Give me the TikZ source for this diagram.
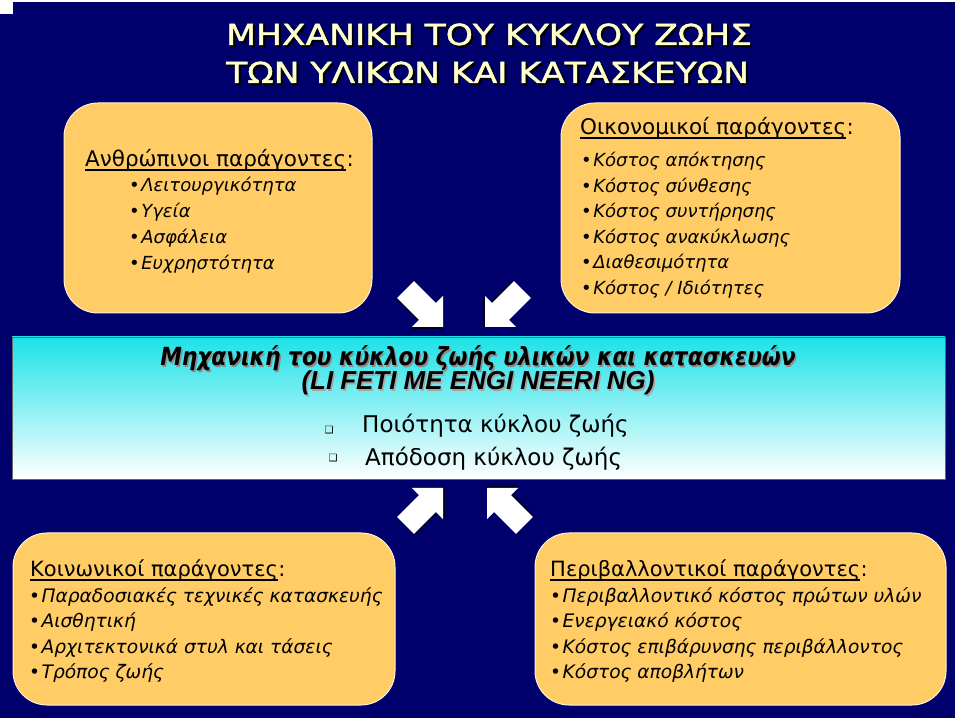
\documentclass[tikz,border=0pt]{standalone}
\usepackage{fontspec}
\setmainfont{DejaVu Sans}
\newfontfamily\comic{DejaVu Sans}
\newfontfamily\comicw[FakeStretch=1.19,FakeBold=1.6]{DejaVu Sans}
\newfontfamily\comicn[FakeStretch=0.87]{DejaVu Sans}
\newfontfamily\arialf{Liberation Sans}
\definecolor{navy}{RGB}{0,0,108}
\definecolor{boxfill}{RGB}{255,204,102}
\definecolor{cream}{RGB}{255,255,204}
\definecolor{cyanband}{RGB}{28,226,232}
\newcommand{\shtext}[3]{\makebox[0pt][l]{\raisebox{-#2}{\kern#2\textcolor{#1}{#3}}}#3}
\tikzset{
  fbox/.style={draw=white!75!boxfill, line width=1pt, fill=boxfill, rounded corners=34pt, inner sep=0pt},
  hd/.style={anchor=base west, inner sep=0pt, font=\comic\fontsize{21.5}{24}\selectfont},
  it/.style={anchor=base west, inner sep=0pt, font=\comic\itshape\fontsize{18}{22}\selectfont},
  hdn/.style={anchor=base west, inner sep=0pt, font=\comic\fontsize{21}{24}\selectfont},
  itn/.style={anchor=base west, inner sep=0pt, font=\comic\itshape\fontsize{18.6}{22}\selectfont},
  ttl/.style={anchor=base west, inner sep=0pt, text=cream, font=\comicw\fontsize{29}{36}\selectfont},
  uline/.style={line width=1.1pt},
  blockarrow/.pic={
    \fill[black!80!navy] (1.5,-1.5) -- ++(-22,22) -- ++(0,-10) -- ++(-31,0) -- ++(0,-24) -- ++(31,0) -- ++(0,-10) -- cycle;
    \fill[white] (0,0) -- (-22,22) -- (-22,12) -- (-53,12) -- (-53,-12) -- (-22,-12) -- (-22,-22) -- cycle;
  }
}
\begin{document}
\begin{tikzpicture}[x=1pt,y=1pt]
\useasboundingbox (0,0) rectangle (960,720);
\fill[white] (0,0) rectangle (960,720);
\fill[navy] (0,2) rectangle (955,718);
\fill[white] (0,706) rectangle (13,720);
% title
\node[ttl] (t1) at (226,675) {\shtext{black}{2pt}{ΜΗΧΑΝΙΚΗ ΤΟΥ ΚΥΚΛΟΥ ΖΩΗΣ}};
\node[ttl] (t2) at (226,637) {\shtext{black}{2pt}{ΤΩΝ ΥΛΙΚΩΝ ΚΑΙ ΚΑΤΑΣΚΕΥΩΝ}};
% boxes
\node[fbox, minimum width=308pt, minimum height=210pt] (bh) at (218,512) {};
\node[fbox, minimum width=339pt, minimum height=210pt] (be) at (730.5,512) {};
\node[fbox, minimum width=382pt, minimum height=172pt] (bs) at (204,101) {};
\node[fbox, minimum width=411pt, minimum height=172pt] (bv) at (740.5,101) {};
% human factors
\node[hd] (h0) at (85,553) {Ανθρώπινοι παράγοντες};
\node[hd, anchor=base west] (h0c) at (h0.base east) {:};
\draw[uline] ([yshift=-3pt]h0.base west) -- ([yshift=-3pt]h0.base east);
\foreach \t [count=\i] in {Λειτουργικότητα,Υγεία,Ασφάλεια,Ευχρηστότητα}
  \node[it] (h\i) at (129,{528-25.7*(\i-1)}) {\upshape\textbullet\kern1.5pt\itshape \t};
% economic factors
\node[hd] (e0) at (580,585) {Οικονομικοί παράγοντες};
\node[hd, anchor=base west] (e0c) at (e0.base east) {:};
\draw[uline] ([yshift=-3pt]e0.base west) -- ([yshift=-3pt]e0.base east);
\foreach \t [count=\i] in {Κόστος απόκτησης,Κόστος σύνθεσης,Κόστος συντήρησης,Κόστος ανακύκλωσης,Διαθεσιμότητα,Κόστος / Ιδιότητες}
  \node[it] (e\i) at (581,{553-25.5*(\i-1)}) {\upshape\textbullet\kern1.5pt\itshape \t};
% social factors
\node[hdn] (s0) at (30,143) {Κοινωνικοί παράγοντες};
\node[hdn, anchor=base west] (s0c) at (s0.base east) {:};
\draw[uline] ([yshift=-3pt]s0.base west) -- ([yshift=-3pt]s0.base east);
\foreach \t [count=\i] in {Παραδοσιακές τεχνικές κατασκευής,Αισθητική,Αρχιτεκτονικά στυλ και τάσεις,Τρόπος ζωής}
  \node[itn] (s\i) at (29,{118-25.6*(\i-1)}) {\upshape\textbullet\kern1.5pt\itshape \t};
% environmental factors
\node[hdn] (v0) at (550,143) {Περιβαλλοντικοί παράγοντες};
\node[hdn, anchor=base west] (v0c) at (v0.base east) {:};
\draw[uline] ([yshift=-3pt]v0.base west) -- ([yshift=-3pt]v0.base east);
\foreach \t [count=\i] in {Περιβαλλοντικό κόστος πρώτων υλών,Ενεργειακό κόστος,Κόστος επιβάρυνσης περιβάλλοντος,Κόστος αποβλήτων}
  \node[itn] (v\i) at (550,{118-25.6*(\i-1)}) {\upshape\textbullet\kern1.5pt\itshape \t};
% central band
\node[draw=black!60, line width=0.6pt, top color=cyanband, bottom color=white, minimum width=933pt, minimum height=142pt, inner sep=0pt] (band) at (478.5,312) {};
\node[anchor=base, inner sep=0pt, font=\comicn\bfseries\itshape\fontsize{25}{28}\selectfont] (c1) at (478,354) {\shtext{black!45}{1.5pt}{Μηχανική του κύκλου ζωής υλικών και κατασκευών}};
\node[anchor=base, inner sep=0pt, font=\arialf\bfseries\itshape\fontsize{26}{28}\selectfont] (c2) at (478,330) {\shtext{black!35}{1.5pt}{(LI\kern7ptFETI\kern7ptME ENGI\kern7ptNEERI\kern7ptNG)}};
\node[anchor=base west, inner sep=0pt, font=\comic\fontsize{23}{28}\selectfont] (c3) at (362,287) {Ποιότητα κύκλου ζωής};
\node[anchor=base west, inner sep=0pt, font=\comic\fontsize{23}{28}\selectfont] (c4) at (365,254) {Απόδοση κύκλου ζωής};
\node[anchor=center, inner sep=0pt, font=\comic\fontsize{10}{12}\selectfont] (q1) at (329,290) {❑};
\node[anchor=center, inner sep=0pt, font=\comic\fontsize{10}{12}\selectfont] (q2) at (333,262) {❑};
% block arrows
\pic[rotate=-45] at (443,393) {blockarrow};
\pic[rotate=-135] at (485,393) {blockarrow};
\pic[rotate=45] at (443,232) {blockarrow};
\pic[rotate=135] at (487,232) {blockarrow};
\end{tikzpicture}
\end{document}
